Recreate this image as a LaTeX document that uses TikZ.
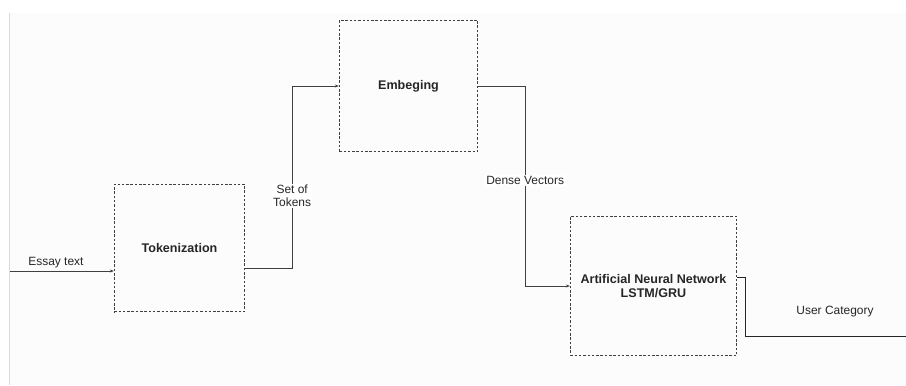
\documentclass[tikz,border=0pt]{standalone}
\usepackage{fontspec}
\setmainfont{Liberation Sans}
\usetikzlibrary{arrows.meta}

\begin{document}
\begin{tikzpicture}[
    x=1bp, y=-1bp,
    every node/.style={font=\fontsize{12}{13.5}\selectfont, text=black!85},
    stage/.style={rectangle, draw=black!75, line width=0.8bp, dash pattern=on 2.5bp off 1.8bp, font=\fontsize{12.6}{14}\selectfont\bfseries, align=center, inner sep=0pt},
    edge/.style={draw=black!75, line width=0.9bp, -{Stealth[length=4bp, width=3bp]}},
    flow/.style={draw=black!85, line width=0.9bp},
    tag/.style={fill=white, inner sep=1bp, align=center}
]
\useasboundingbox (0,0) rectangle (906,385);
\fill[black!1] (9,13) rectangle (906,385);
\draw[black!15, line width=1bp] (9,13) -- (9,385);

% Stages
\node[stage, minimum width=131, minimum height=128] (tok) at (179.5,248) {Tokenization};
\node[stage, minimum width=139, minimum height=132] (emb) at (408.5,86) {Embeging};
\node[stage, minimum width=167, minimum height=140] (ann) at (653.5,286) {Artificial Neural Network\\LSTM/GRU};

% Free ends
\coordinate (in) at (10,271);
\coordinate (out) at (906,336);

% Connectors
\draw[edge] (in) -- (in -| tok.west) node[midway, above, xshift=-6, yshift=-1] {Essay text};
\draw[edge] ([yshift=-21pt]tok.east) -- ++(47,0) |- (emb.west)
    node[tag, pos=0.2] (tokens) {Set of\\Tokens};
\draw[edge] (emb.east) -- ++(47,0) |- (ann.west)
    node[tag, pos=0.236] (dense) {Dense Vectors};
\draw[flow] ([yshift=9pt]ann.east) -- ++(8,0) |- (out);

% Output annotation
\node (user) at (835,312) {User Category};
\end{tikzpicture}
\end{document}
